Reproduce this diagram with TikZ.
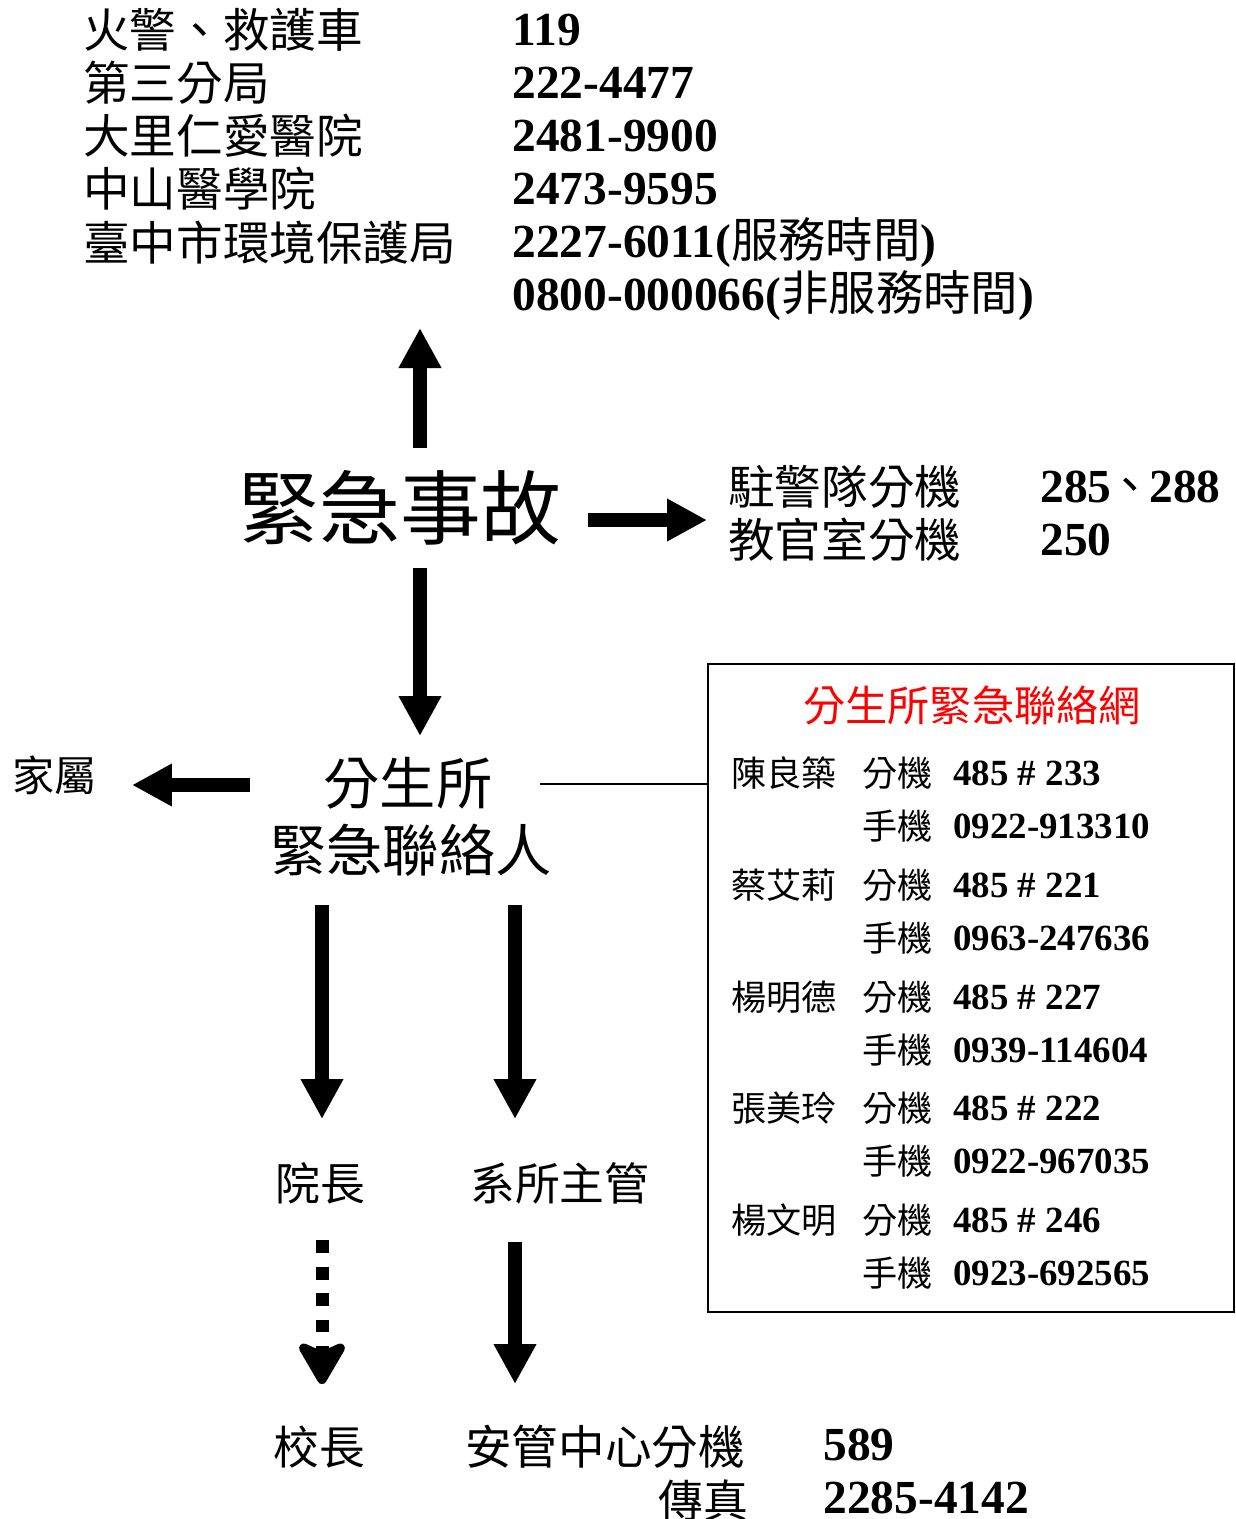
\documentclass[tikz,border=0pt]{standalone}
\usepackage{fontspec}
\setmainfont{Liberation Serif}
\newfontfamily\cjk{Noto Sans CJK TC}
\usetikzlibrary{arrows.meta}

\newcommand\zhm[1]{{\mdseries\cjk #1}}

\tikzset{
  txt/.style={inner sep=0pt, anchor=west},
  zh/.style={inner sep=0pt, font=\cjk\fontsize{#1}{#1}\selectfont},
  num/.style={inner sep=0pt, font=\bfseries\fontsize{#1}{#1}\selectfont},
  fat/.style={line width=0.28cm, -{Triangle[width=0.8cm,length=0.8cm]}},
  dotfat/.style={line width=0.26cm, dash pattern=on 0.26cm off 0.27cm,
    -{Stealth[width=1.15cm,length=1.0cm,inset=0.25cm,round]}},
}

\begin{document}
\begin{tikzpicture}[x=0.02cm, y=-0.02cm]
\useasboundingbox (0,0) rectangle (1235,1519);
\node[txt,zh=26.5] (fire) at (83,30) {火警、救護車};
\node[txt,num=27] (fireno) at (512,30) {119};
\node[txt,zh=26.5] (police) at (83,83) {第三分局};
\node[txt,num=27] (policeno) at (512,83) {222-4477};
\node[txt,zh=26.5] (renai) at (83,136) {大里仁愛醫院};
\node[txt,num=27] (renaino) at (512,136) {2481-9900};
\node[txt,zh=26.5] (csmu) at (83,189) {中山醫學院};
\node[txt,num=27] (csmuno) at (512,189) {2473-9595};
\node[txt,zh=26.5] (epb) at (83,243) {臺中市環境保護局};
\node[txt,num=27] (epbno) at (512,243) {2227-6011(\zhm{服務時間})};
\node[txt,num=27] (epbnight) at (512,296) {0800-000066(\zhm{非服務時間})}; % outside numbers
\node[zh=46] (evt) at (400,508) {緊急事故};
\coordinate (upA) at (420,448);
\coordinate (upB) at (420,328);
\coordinate (rtA) at (588,520);
\coordinate (rtB) at (707,520);
\coordinate (dnA) at (420,568);
\coordinate (dnB) at (420,736);
\draw[fat] (upA) -- (upB);
\draw[fat] (rtA) -- (rtB);
\draw[fat] (dnA) -- (dnB); % out of the event
\node[txt,zh=26.5] (guard) at (728,487) {駐警隊分機};
\node[txt,num=27] (guardno) at (1040,487) {285\kern-0.1em\zhm{、}\kern-0.1em288};
\node[txt,zh=26.5] (drill) at (728,540) {教官室分機};
\node[txt,num=27] (drillno) at (1040,540) {250}; % campus extensions
\node[zh=32] (dept) at (408,783) {分生所};
\node[zh=32] (liaison) at (411,850) {緊急聯絡人};
\node[txt,zh=24] (family) at (12,775) {家屬};
\coordinate (ltA) at (250,785);
\coordinate (ltB) at (132,785);
\draw[fat] (ltA) -- (ltB);
\node[draw, line width=1pt, inner sep=0pt, minimum width=10.52cm, minimum height=12.96cm] (net) at (971,988) {};
\coordinate (lk) at (540,784);
\draw[line width=1pt] (lk) -- (lk -| net.west); % link to the box
\node[zh=24, text=red] (nettitle) at (972,706) {分生所緊急聯絡網};
\node[txt,zh=20] (chen) at (731,773) {陳良築};
\node[txt,zh=20] (chenext) at (862,773) {分機};
\node[txt,num=21] (chenextno) at (953,773) {485 \# 233};
\node[txt,zh=20] (chenmob) at (862,826) {手機};
\node[txt,num=21] (chenmobno) at (953,826) {0922-913310};
\node[txt,zh=20] (tsai) at (731,885) {蔡艾莉};
\node[txt,zh=20] (tsaiext) at (862,885) {分機};
\node[txt,num=21] (tsaiextno) at (953,885) {485 \# 221};
\node[txt,zh=20] (tsaimob) at (862,938) {手機};
\node[txt,num=21] (tsaimobno) at (953,938) {0963-247636};
\node[txt,zh=20] (yangm) at (731,997) {楊明德};
\node[txt,zh=20] (yangmext) at (862,997) {分機};
\node[txt,num=21] (yangmextno) at (953,997) {485 \# 227};
\node[txt,zh=20] (yangmmob) at (862,1050) {手機};
\node[txt,num=21] (yangmmobno) at (953,1050) {0939-114604};
\node[txt,zh=20] (chang) at (731,1108) {張美玲};
\node[txt,zh=20] (changext) at (862,1108) {分機};
\node[txt,num=21] (changextno) at (953,1108) {485 \# 222};
\node[txt,zh=20] (changmob) at (862,1161) {手機};
\node[txt,num=21] (changmobno) at (953,1161) {0922-967035};
\node[txt,zh=20] (yangw) at (731,1220) {楊文明};
\node[txt,zh=20] (yangwext) at (862,1220) {分機};
\node[txt,num=21] (yangwextno) at (953,1220) {485 \# 246};
\node[txt,zh=20] (yangwmob) at (862,1273) {手機};
\node[txt,num=21] (yangwmobno) at (953,1273) {0923-692565}; % the five contacts
\coordinate (deanA) at (322,905);
\coordinate (deanB) at (322,1119);
\coordinate (headA) at (515,905);
\coordinate (headB) at (515,1119);
\draw[fat] (deanA) -- (deanB);
\draw[fat] (headA) -- (headB);
\node[txt,zh=25.5] (dean) at (275,1183) {院長};
\node[txt,zh=25.5] (head) at (470,1183) {系所主管};
\coordinate (presA) at (322,1240);
\coordinate (presB) at (322,1384);
\coordinate (secA) at (515,1242);
\coordinate (secB) at (515,1384);
\draw[dotfat] (presA) -- (presB);
\draw[fat] (secA) -- (secB);
\node[txt,zh=26] (pres) at (273,1447) {校長};
\node[txt,zh=26.5] (sec) at (465,1447) {安管中心分機};
\node[txt,num=27] (secno) at (823,1445) {589};
\node[txt,zh=25.5] (fax) at (658,1500) {傳真};
\node[txt,num=27] (faxno) at (823,1498) {2285-4142};
\end{tikzpicture}
\end{document}
